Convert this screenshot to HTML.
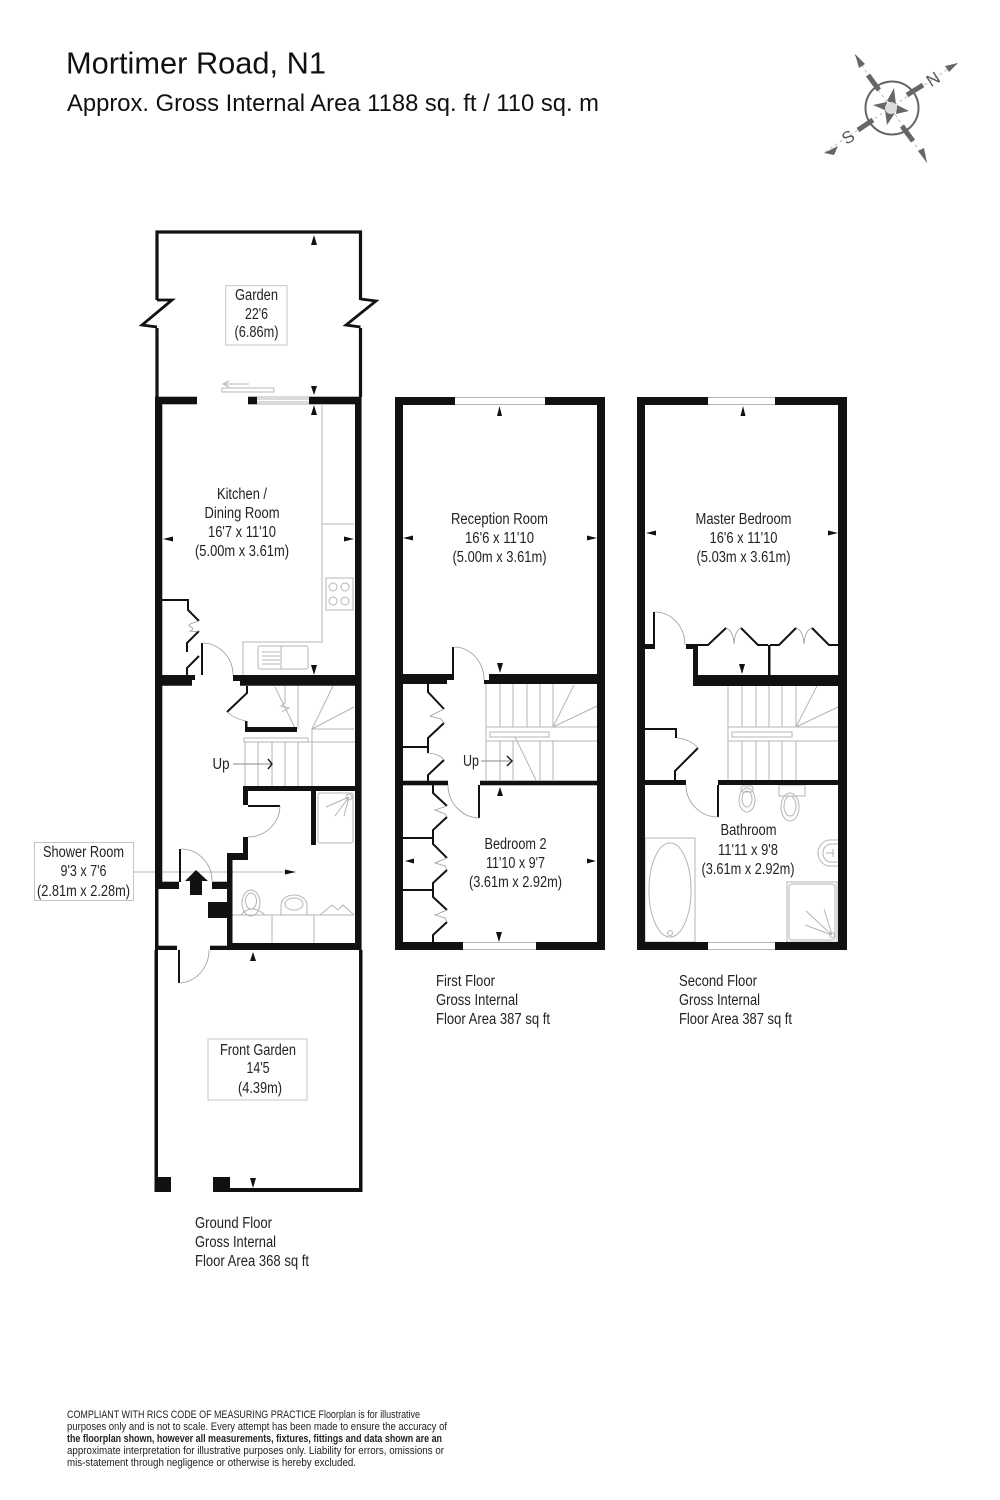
<!DOCTYPE html>
<html><head><meta charset="utf-8"><style>
html,body{margin:0;padding:0;background:#fff}
svg{display:block}
text{font-family:"Liberation Sans",sans-serif;fill:#222}
.l text{font-size:15.3px;text-anchor:middle}
.s text{font-size:15.3px}
.g{fill:none;stroke:#b5b5b5;stroke-width:1}
.d{fill:none;stroke:#999;stroke-width:.8}
.k{fill:none;stroke:#111;stroke-width:2}
.w{fill:#111}
</style></head><body>
<svg width="1000" height="1500" viewBox="0 0 1000 1500" xmlns="http://www.w3.org/2000/svg">
<rect width="1000" height="1500" fill="#fff"/>
<text x="66" y="73.500" font-size="31" textLength="260" lengthAdjust="spacingAndGlyphs" style="fill:#111">Mortimer Road, N1</text>
<text x="67" y="111" font-size="24.500" textLength="532" lengthAdjust="spacingAndGlyphs" style="fill:#111">Approx. Gross Internal Area 1188 sq. ft / 110 sq. m</text>

<!-- compass -->
<g>
<circle cx="892" cy="108" r="26.500" fill="none" stroke="#666" stroke-width="2"/>
<path d="M855 55L927 162M825 152L957 63" stroke="#bbb" stroke-width="1" stroke-dasharray="3 3" fill="none"/>
<path d="M868 75L879 90M907 95L923 85M858 130L873 120M902 126L913 141" stroke="#666" stroke-width="5" fill="none"/>
<g fill="#666">
<polygon points="855,54 865,64 859,68"/><polygon points="958,63 945,66 949,72"/><polygon points="824,153 838,146 834,155"/><polygon points="927,163 918,151 924,148"/>
<polygon points="894,88 896,105 887,101"/><polygon points="909,111 896,114 897,105"/><polygon points="887,125 885,110 895,113"/><polygon points="873,105 887,102 887,111"/>
</g>
<circle cx="891" cy="108" r="6" fill="#ddd"/>
<text x="933" y="85" font-size="17" text-anchor="middle" transform="rotate(-33 933 79)" style="fill:#555">N</text>
<text x="848" y="143" font-size="17" text-anchor="middle" transform="rotate(-33 848 137)" style="fill:#555">S</text>
</g>

<!-- GROUND FLOOR -->
<g class="g">
<path d="M322 405V642H243V675M322 524H354"/>
<rect x="326" y="578" width="27" height="32"/>
<circle cx="333" cy="587" r="4"/><circle cx="345" cy="587" r="4"/><circle cx="333" cy="601" r="4"/><circle cx="345" cy="601" r="4"/>
<rect x="258" y="646" width="50" height="23" rx="2"/><path d="M281 646V669M262 652H280M262 656H280M262 660H280M262 664H280"/>
<rect x="222" y="388" width="52" height="4"/><path d="M223 384H249M229 381L223 384L229 387"/>
<path d="M257 397H309M257 404H309M257 399H309M257 402H309"/>
<path d="M312 729H354M245 742H355M245 742V786M258 742V786M272 742V786M285 742V786M298 742V786M312 729V786"/>
<rect x="244" y="738" width="64" height="4"/>
<path d="M298 686V729M312 729L333 686M312 729L354 707M275 687L295 728M285 686V703L281 706L289 708L282 712"/>
<path d="M232 915H354M272 915V943M314 915V943"/>
<rect x="318" y="793" width="35" height="50" rx="2"/>
<path d="M349 797L326 807M349 797L335 816M349 797L344 816"/>
<circle cx="349" cy="797" r="3"/>
<path d="M320 915L332 905L338 910L343 905L354 915"/>
<ellipse cx="251" cy="903" rx="9" ry="13"/><ellipse cx="251" cy="901" rx="5.500" ry="8"/><path d="M241 915Q251 903 265 915"/>
<path d="M281 915V905A13 10 0 0 1 307 905V915"/><ellipse cx="294" cy="904" rx="9" ry="6"/>
<path d="M134 872H285"/>
</g>
<g class="w">
<path d="M157 300V232H360.500V300M157 328V397M360.500 328V397" fill="none" stroke="#111" stroke-width="3.200"/>
<path d="M157 300H172L142 325L157 327M360.500 299L376 301L346 325L360.500 327" fill="none" stroke="#111" stroke-width="2.800"/>
<rect x="155" y="396.700" width="42" height="7.600"/>
<rect x="248" y="396.700" width="9" height="7.600"/>
<rect x="309" y="396.700" width="51" height="7.600"/>
<rect x="155" y="397" width="7.300" height="492"/>
<rect x="355" y="397" width="6.600" height="553"/>
<path d="M155 675H195V680H192V685.700H155Z"/>
<path d="M233 675H361V685.700H240V681H233Z"/>
<rect x="155" y="881.700" width="24" height="7.300"/>
<rect x="212" y="881.700" width="15" height="7.300"/>
<rect x="227" y="853" width="5.500" height="97"/>
<path d="M227 853H243V837H248V860H227Z"/>
<rect x="243" y="786" width="118" height="5"/>
<rect x="243" y="786" width="5" height="19"/>
<rect x="248" y="805" width="32" height="2"/>
<rect x="311" y="791" width="5" height="54"/>
<rect x="208" y="902" width="19" height="16"/>
<rect x="227" y="943" width="134" height="7"/>
<rect x="155" y="889" width="3.500" height="61"/>
<rect x="155" y="945.700" width="22" height="4.300"/>
<rect x="210" y="945.700" width="17" height="4.300"/>
<rect x="179" y="849" width="2" height="33"/>
<polygon points="196,870 208,881 202,881 202,895 190,895 190,881 185,881"/>
<rect x="178" y="950" width="2" height="33"/>
<rect x="154.500" y="950" width="3.500" height="242"/>
<rect x="359" y="950" width="3.500" height="242"/>
<rect x="230" y="1188" width="132.500" height="4"/>
<rect x="154.500" y="1177" width="16.500" height="15"/>
<rect x="213" y="1177" width="17" height="15"/>
<rect x="201" y="643" width="2" height="32"/>
<path d="M245 721H247.500V727H297V732H245Z"/>
</g>
<path d="M162 600H188V610L199 621M199 631L187 643V652M199 656L187 668V675M247 686V693L227 712" class="k"/>
<g class="d">
<path d="M202 643A31 32 0 0 1 233 675M181 849A31 32 0 0 1 212 881M280 806A32 32 0 0 1 248 837M179 983A31 33 0 0 0 209 950M227 712Q235 719 246 721"/>
<path d="M199 621Q188 624 189 626Q196 629 190 631Q195 632 199 631"/>
</g>

<!-- FIRST FLOOR -->
<g class="g">
<path d="M486 684V780M500 684V727M513 684V727M527 684V727M540 684V727M553 684V727M486 727H597M486 741H597M500 741V780M513 741V780M540 741V780M553 741V780"/>
<rect x="490" y="732" width="59" height="5"/>
<path d="M553 727L574 685M553 727L597 706M515 737L536 780"/>
<path d="M455 397.500H545M455 404.500H545M463 942.500H536M463 949.500H536"/>
<path d="M481 761H503"/>
</g>
<g class="w">
<rect x="395" y="397" width="60" height="8"/><rect x="545" y="397" width="60" height="8"/>
<rect x="395" y="397" width="8" height="553"/><rect x="597" y="397" width="8" height="553"/>
<rect x="395" y="942" width="68" height="8"/><rect x="536" y="942" width="69" height="8"/>
<path d="M403 674H452V680H447V684H403Z"/>
<path d="M489 674H597V684H484V680H489Z"/>
<rect x="403" y="780.700" width="45" height="4.600"/>
<rect x="480" y="780.700" width="117" height="4.600"/>
<rect x="452" y="647" width="2" height="33"/>
<rect x="478" y="785" width="2" height="33"/>
</g>
<g class="k">
<path d="M428 684V692L444 709M444 723L428 738V747H403M428 747V753M444 760L428 775V781"/>
<path d="M433 785V793L447 806M447 817L433 830V838H403M433 838V844L447 858M447 870L433 883V890H403M433 890V897L447 910M447 922L433 935V942"/>
</g>
<g class="d">
<path d="M454 647A30 33 0 0 1 484 680M480 818A32 33 0 0 1 448 785"/>
<path d="M444 709L430 716L441 719L444 723M428 753Q440 754 444 760"/>
<path d="M447 806L435 810L445 814L447 817M447 858L435 863L445 866L447 870M447 910L435 915L445 918L447 922"/>
</g>

<!-- SECOND FLOOR -->
<g class="g">
<path d="M728 686V780M742 686V727M756 686V727M769 686V727M782 686V727M796 686V727M728 727H838M728 741H838M742 741V780M756 741V780M769 741V780M782 741V780M796 741V780"/>
<rect x="732" y="732" width="60" height="5"/>
<path d="M796 727L817 686M796 727L838 707"/>
<path d="M708 397.500H775M708 404.500H775M708 942.500H775M708 949.500H775"/>
<rect x="645" y="838" width="50" height="104"/>
<ellipse cx="670" cy="890" rx="21" ry="47"/>
<circle cx="670" cy="933" r="2.500"/>
<rect x="787" y="882" width="50" height="60"/>
<rect x="789" y="884" width="46" height="56" rx="3"/>
<path d="M832 935L806 911M832 935L824 909M832 935L805 925"/><circle cx="832" cy="935" r="2.500"/>
<ellipse cx="747" cy="800" rx="8" ry="12"/><ellipse cx="747" cy="799" rx="5" ry="8"/><rect x="741" y="786" width="12" height="6" rx="2"/>
<rect x="779" y="785" width="26" height="11"/><ellipse cx="790" cy="807" rx="9" ry="14"/><ellipse cx="790" cy="806" rx="6" ry="10"/>
<path d="M838 840H830A12 13 0 0 0 830 866H838"/><path d="M838 844H831A8 9 0 0 0 831 862H838"/>
<path d="M826 853H834M833 849V857"/>
</g>
<g class="w">
<rect x="637" y="397" width="71" height="8"/><rect x="775" y="397" width="72" height="8"/>
<rect x="637" y="397" width="8" height="553"/><rect x="838" y="397" width="9" height="553"/>
<rect x="637" y="942" width="71" height="8"/><rect x="775" y="942" width="72" height="8"/>
<rect x="645" y="644" width="10" height="5"/>
<rect x="653" y="612" width="2" height="33"/>
<rect x="686" y="644" width="12" height="5"/>
<rect x="693" y="645" width="5" height="41"/>
<rect x="693" y="675" width="145" height="11"/>
<rect x="768" y="645" width="2.500" height="30"/>
<rect x="645" y="780" width="41" height="5"/>
<rect x="718" y="780" width="120" height="5"/>
<rect x="717" y="785" width="2" height="32"/>
</g>
<g class="k">
<path d="M698 645H708L726 628M741 628L758 645H768M770 645H779L796 628M812 628L829 645H838"/>
<path d="M645 729H676V738M675 780V771L698 748"/>
</g>
<g class="d">
<path d="M655 612A30 33 0 0 1 685 645M718 817A32 32 0 0 1 686 785M677 738Q690 739 698 748"/>
<path d="M726 628Q733 630 734 644Q735 630 741 628M796 628Q803 630 804 644Q805 630 812 628"/>
</g>

<!-- arrows -->
<g fill="#111">
<polygon points="314,235 311,245 317,245"/>
<polygon points="314,395 311,386 317,386"/>
<polygon points="314,405 311,415 317,415"/>
<polygon points="163,539 173,536.500 173,541.500"/>
<polygon points="354,539 344,536.500 344,541.500"/>
<polygon points="314,675 311,665 317,665"/>
<polygon points="296,872 285,869.500 285,874.500"/>
<polygon points="253,952 250,961 256,961"/>
<polygon points="253,1188 250,1178 256,1178"/>
<polygon points="499.500,406 497,416 502,416"/>
<polygon points="403,538 413,535.500 413,540.500"/>
<polygon points="597,538 587,535.500 587,540.500"/>
<polygon points="500,673 497,663 503,663"/>
<polygon points="500,787 497,796 503,796"/>
<polygon points="405,861 414,858.500 414,863.500"/>
<polygon points="596,861 587,858.500 587,863.500"/>
<polygon points="499,942 496,932 502,932"/>
<polygon points="743,406 740.500,416 745.500,416"/>
<polygon points="646,533 656,530.500 656,535.500"/>
<polygon points="838,533 828,530.500 828,535.500"/>
<polygon points="742,674 739,664 745,664"/>
</g>
<path d="M233 764H271" fill="none" stroke="#888" stroke-width="1"/>
<path d="M268 759L272 764L268 769" fill="none" stroke="#222" stroke-width="1.500"/>
<path d="M481 761H510" fill="none" stroke="#888" stroke-width="1"/>
<path d="M507 756L512 761L507 766" fill="none" stroke="#222" stroke-width="1.500"/>

<!-- label boxes -->
<g fill="#fff" stroke="#c4c4c4" stroke-width="1">
<rect x="225.700" y="285.700" width="61.300" height="59.300"/>
<rect x="208" y="1039" width="99" height="61"/>
<rect x="34.500" y="842.500" width="99" height="58"/>
</g>

<g class="l">
<text x="256.500" y="300" textLength="43" lengthAdjust="spacingAndGlyphs">Garden</text>
<text x="256.500" y="319" textLength="23" lengthAdjust="spacingAndGlyphs">22'6</text>
<text x="256.500" y="337" textLength="44" lengthAdjust="spacingAndGlyphs">(6.86m)</text>
<text x="242" y="499" textLength="50" lengthAdjust="spacingAndGlyphs">Kitchen /</text>
<text x="242" y="518" textLength="75" lengthAdjust="spacingAndGlyphs">Dining Room</text>
<text x="242" y="537" textLength="68" lengthAdjust="spacingAndGlyphs">16'7 x 11'10</text>
<text x="242" y="556" textLength="94" lengthAdjust="spacingAndGlyphs">(5.00m x 3.61m)</text>
<text x="499.500" y="524" textLength="97" lengthAdjust="spacingAndGlyphs">Reception Room</text>
<text x="499.500" y="543" textLength="69" lengthAdjust="spacingAndGlyphs">16'6 x 11'10</text>
<text x="499.500" y="562" textLength="94" lengthAdjust="spacingAndGlyphs">(5.00m x 3.61m)</text>
<text x="743.500" y="524" textLength="96" lengthAdjust="spacingAndGlyphs">Master Bedroom</text>
<text x="743.500" y="543" textLength="68" lengthAdjust="spacingAndGlyphs">16'6 x 11'10</text>
<text x="743.500" y="562" textLength="94" lengthAdjust="spacingAndGlyphs">(5.03m x 3.61m)</text>
<text x="515.500" y="849" textLength="62" lengthAdjust="spacingAndGlyphs">Bedroom 2</text>
<text x="515.500" y="868" textLength="59" lengthAdjust="spacingAndGlyphs">11'10 x 9'7</text>
<text x="515.500" y="887" textLength="93" lengthAdjust="spacingAndGlyphs">(3.61m x 2.92m)</text>
<text x="748.500" y="835" textLength="56" lengthAdjust="spacingAndGlyphs">Bathroom</text>
<text x="748" y="855" textLength="60" lengthAdjust="spacingAndGlyphs">11'11 x 9'8</text>
<text x="748" y="874" textLength="93" lengthAdjust="spacingAndGlyphs">(3.61m x 2.92m)</text>
<text x="83.500" y="857" textLength="81" lengthAdjust="spacingAndGlyphs">Shower Room</text>
<text x="83.500" y="876" textLength="46" lengthAdjust="spacingAndGlyphs">9'3 x 7'6</text>
<text x="83.500" y="896" textLength="93" lengthAdjust="spacingAndGlyphs">(2.81m x 2.28m)</text>
<text x="258" y="1055" textLength="76" lengthAdjust="spacingAndGlyphs">Front Garden</text>
<text x="258" y="1073" textLength="23" lengthAdjust="spacingAndGlyphs">14'5</text>
<text x="260" y="1093" textLength="44" lengthAdjust="spacingAndGlyphs">(4.39m)</text>
<text x="221" y="769" textLength="17" lengthAdjust="spacingAndGlyphs">Up</text>
<text x="471" y="766" textLength="16" lengthAdjust="spacingAndGlyphs">Up</text>
</g>
<g class="s">
<text x="195" y="1228" textLength="77" lengthAdjust="spacingAndGlyphs">Ground Floor</text>
<text x="195" y="1247" textLength="81" lengthAdjust="spacingAndGlyphs">Gross Internal</text>
<text x="195" y="1266" textLength="114" lengthAdjust="spacingAndGlyphs">Floor Area 368 sq ft</text>
<text x="436" y="986" textLength="59" lengthAdjust="spacingAndGlyphs">First Floor</text>
<text x="436" y="1005" textLength="82" lengthAdjust="spacingAndGlyphs">Gross Internal</text>
<text x="436" y="1024" textLength="114" lengthAdjust="spacingAndGlyphs">Floor Area 387 sq ft</text>
<text x="679" y="986" textLength="78" lengthAdjust="spacingAndGlyphs">Second Floor</text>
<text x="679" y="1005" textLength="81" lengthAdjust="spacingAndGlyphs">Gross Internal</text>
<text x="679" y="1024" textLength="113" lengthAdjust="spacingAndGlyphs">Floor Area 387 sq ft</text>
</g>
<g font-size="11">
<text x="67" y="1418" textLength="353" lengthAdjust="spacingAndGlyphs">COMPLIANT WITH RICS CODE OF MEASURING PRACTICE  Floorplan is for illustrative</text>
<text x="67" y="1430" textLength="380" lengthAdjust="spacingAndGlyphs">purposes only and is not to scale. Every attempt has been made to ensure the accuracy of</text>
<text x="67" y="1442" textLength="375" lengthAdjust="spacingAndGlyphs" font-weight="bold">the floorplan shown, however all measurements, fixtures, fittings and data shown are an</text>
<text x="67" y="1454" textLength="377" lengthAdjust="spacingAndGlyphs">approximate interpretation for illustrative purposes only. Liability for errors, omissions or</text>
<text x="67" y="1466" textLength="289" lengthAdjust="spacingAndGlyphs">mis-statement through negligence or otherwise is hereby excluded.</text>
</g>
</svg>
</body></html>
